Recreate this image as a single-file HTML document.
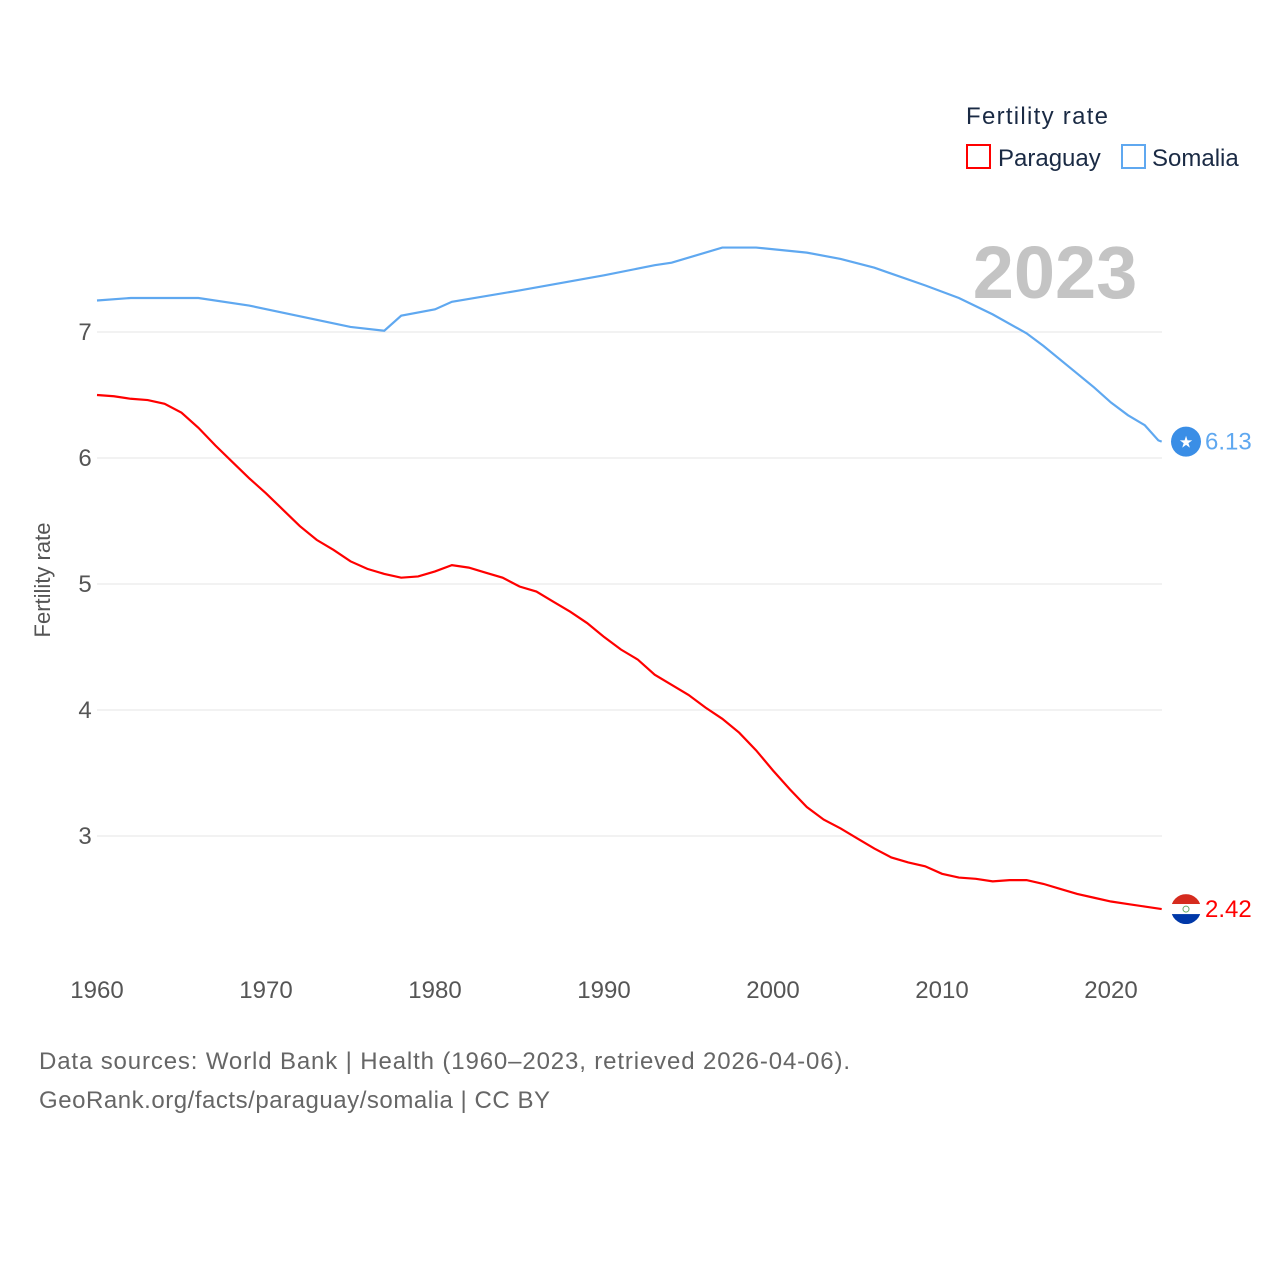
<!DOCTYPE html>
<html><head><meta charset="utf-8">
<style>
body{margin:0;background:#fff;font-family:"Liberation Sans",sans-serif;}
svg text{font-family:"Liberation Sans",sans-serif;}
</style></head>
<body>
<svg id="chart" width="1280" height="1280" viewBox="0 0 1280 1280">
  <g id="grid"></g>
  <g id="yticks"></g>
  <g id="xticks"></g>
  <text x="1055" y="298" font-size="74" font-weight="bold" fill="#c4c4c4" text-anchor="middle">2023</text>
  <text transform="translate(50,580) rotate(-90)" font-size="22" fill="#555" text-anchor="middle">Fertility rate</text>
  <g id="series"></g>
  <g>
    <text x="966" y="124" font-size="24" fill="#1a2a44" textLength="142">Fertility rate</text>
    <g>
      <rect x="967" y="145" width="23" height="23" fill="none" stroke="#f00" stroke-width="2"/>
      <text x="998" y="166" font-size="24" fill="#1a2a44">Paraguay</text>
    </g>
    <g>
      <rect x="1122" y="145" width="23" height="23" fill="none" stroke="#5fa8f0" stroke-width="2"/>
      <text x="1152" y="166" font-size="24" fill="#1a2a44">Somalia</text>
    </g>
  </g>
  <g id="endmarks"></g>
  <text x="39" y="1069" font-size="24" fill="#666" textLength="811">Data sources: World Bank | Health (1960–2023, retrieved 2026-04-06).</text>
  <text x="39" y="1108" font-size="24" fill="#666" textLength="511">GeoRank.org/facts/paraguay/somalia | CC BY</text>
</svg>
<script>
const years = [];
for (let y = 1960; y <= 2023; y++) years.push(y);
const somaliaYears = [1960,1962,1966,1969,1975,1977,1978,1980,1981,1985,1990,1993,1994,1997,1999,2002,2004,2006,2009,2011,2013,2015,2016,2018,2019,2020,2021,2022,2022.8,2023];
const somaliaValues = [7.25,7.27,7.27,7.21,7.04,7.01,7.13,7.18,7.24,7.33,7.45,7.53,7.55,7.67,7.67,7.63,7.58,7.51,7.37,7.27,7.14,6.99,6.89,6.67,6.56,6.44,6.34,6.26,6.14,6.13];
const paraguayValues = [6.50,6.49,6.47,6.46,6.43,6.36,6.24,6.10,5.97,5.84,5.72,5.59,5.46,5.35,5.27,5.18,5.12,5.08,5.05,5.06,5.10,5.15,5.13,5.09,5.05,4.98,4.94,4.86,4.78,4.69,4.58,4.48,4.40,4.28,4.20,4.12,4.02,3.93,3.82,3.68,3.52,3.37,3.23,3.13,3.06,2.98,2.90,2.83,2.79,2.76,2.70,2.67,2.66,2.64,2.65,2.65,2.62,2.58,2.54,2.51,2.48,2.46,2.44,2.42];
const yTicks = [3,4,5,6,7];
const xTicks = [1960,1970,1980,1990,2000,2010,2020];

const X = yr => 97 + (yr - 1960) * 16.9;
const Y = v => 332 + (7 - v) * 126;
const NS = "http://www.w3.org/2000/svg";
function mk(tag, attrs, parent){const e=document.createElementNS(NS,tag);for(const k in attrs)e.setAttribute(k,attrs[k]);parent.appendChild(e);return e;}

const grid=document.getElementById('grid'), yt=document.getElementById('yticks'), xt=document.getElementById('xticks');
yTicks.forEach(v=>{
  const l=mk('line',{x1:97,x2:1162,y1:Y(v),y2:Y(v),stroke:'#e6e6e6','stroke-width':1},grid);
  
  
  const t=mk('text',{x:85,y:Y(v)+8,'font-size':24,fill:'#555','text-anchor':'middle'},yt);
  t.textContent=v;
  
  
});
xTicks.forEach(yr=>{
  const t=mk('text',{x:X(yr),y:998,'font-size':24,fill:'#555','text-anchor':'middle'},xt);
  t.textContent=yr;
  
  
});
const series=document.getElementById('series');
const sp=mk('polyline',{points:somaliaYears.map((y,i)=>X(y)+','+Y(somaliaValues[i])).join(' '),fill:'none',stroke:'#5fa8f0','stroke-width':2.2},series);


const pp=mk('polyline',{points:years.map((y,i)=>X(y)+','+Y(paraguayValues[i])).join(' '),fill:'none',stroke:'#f00','stroke-width':2.2},series);



const em=document.getElementById('endmarks');
const sLast=somaliaValues[somaliaValues.length-1], pLast=paraguayValues[paraguayValues.length-1];
const sc=mk('circle',{cx:1186,cy:Y(sLast),r:15,fill:'#3a8ee6'},em);


const st=mk('text',{x:1186,y:Y(sLast)+6,'font-size':16,fill:'#fff','text-anchor':'middle'},em);st.textContent='★';


const sl=mk('text',{x:1205,y:Y(sLast)+8,'font-size':24,fill:'#5fa8f0'},em);sl.textContent=sLast.toFixed(2);


const py=Y(pLast);
const g=mk('g',{},em);


mk('clipPath',{id:'pc'},g).appendChild(document.createElementNS(NS,'circle'));
const cc=g.querySelector('clipPath circle');cc.setAttribute('cx',1186);cc.setAttribute('cy',py);cc.setAttribute('r',15);
const gg=mk('g',{'clip-path':'url(#pc)'},g);
mk('rect',{x:1171,y:py-15,width:30,height:10,fill:'#d52b1e'},gg);
mk('rect',{x:1171,y:py-5,width:30,height:10,fill:'#fff'},gg);
mk('rect',{x:1171,y:py+5,width:30,height:10,fill:'#0038a8'},gg);
mk('circle',{cx:1186,cy:py,r:3,fill:'none',stroke:'#6a6','stroke-width':1},gg);
const pl=mk('text',{x:1205,y:py+8,'font-size':24,fill:'#f00'},em);pl.textContent=pLast.toFixed(2);


</script>
</body></html>
